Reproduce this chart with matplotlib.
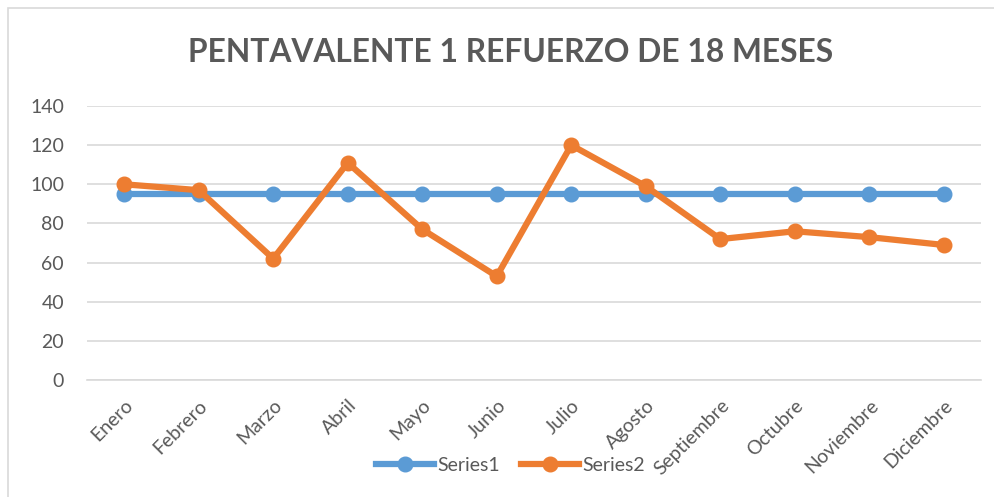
import matplotlib.pyplot as plt
from matplotlib.patches import Rectangle

# data
months = ['Enero', 'Febrero', 'Marzo', 'Abril', 'Mayo', 'Junio', 'Julio',
          'Agosto', 'Septiembre', 'Octubre', 'Noviembre', 'Diciembre']
series1 = [95, 95, 95, 95, 95, 95, 95, 95, 95, 95, 95, 95]
series2 = [100, 97, 62, 111, 77, 53, 120, 99, 72, 76, 73, 69]
yticks = [0, 20, 40, 60, 80, 100, 120, 140]

BLUE = '#5B9BD5'
ORANGE = '#ED7D31'
TEXT = '#595959'
GRID = '#D9D9D9'

plt.rcParams['font.family'] = ['Lato', 'DejaVu Sans']

fig = plt.figure(figsize=(9.95, 4.97), dpi=100)
ax = fig.add_axes([0.0874, 0.2354, 0.8986, 0.5513])

# chart border
fig.patches.append(Rectangle((8 / 995, -0.01), 1.0, 1.0 - 8 / 497 + 0.01,
                             transform=fig.transFigure, fill=False,
                             edgecolor=GRID, linewidth=1.2))

x = range(len(months))
ax.plot(x, series1, color=BLUE, linewidth=4.5, marker='o', markersize=10.5,
        label='Series1', zorder=3)
ax.plot(x, series2, color=ORANGE, linewidth=4.5, marker='o', markersize=10.5,
        label='Series2', zorder=4)

ax.set_xlim(-0.5, len(months) - 0.5)
ax.set_ylim(0, 140)
ax.set_yticks(yticks)
ax.yaxis.grid(True, color=GRID, linewidth=1.2)
ax.set_axisbelow(True)
for s in ['top', 'right', 'left']:
    ax.spines[s].set_visible(False)
ax.spines['bottom'].set_color(GRID)
ax.spines['bottom'].set_linewidth(1.2)
ax.tick_params(axis='both', length=0, colors=TEXT, labelsize=14)
ax.tick_params(axis='y', pad=16.5)
ax.set_xticks(list(x))
ax.set_xticklabels(months, rotation=45, ha='right', rotation_mode='anchor')
ax.tick_params(axis='x', pad=12)

fig.text(0.513, 0.895, 'PENTAVALENTE 1 REFUERZO DE 18 MESES', ha='center',
         va='center', fontsize=22.9, fontweight='bold', color=TEXT)

leg = fig.legend(loc='center', bbox_to_anchor=(0.513, 0.064), ncol=2,
                 frameon=False, fontsize=14, handlelength=3.0,
                 columnspacing=1.1, handletextpad=0.15)
for t in leg.get_texts():
    t.set_color(TEXT)

fig.savefig('out.png', dpi=100)
